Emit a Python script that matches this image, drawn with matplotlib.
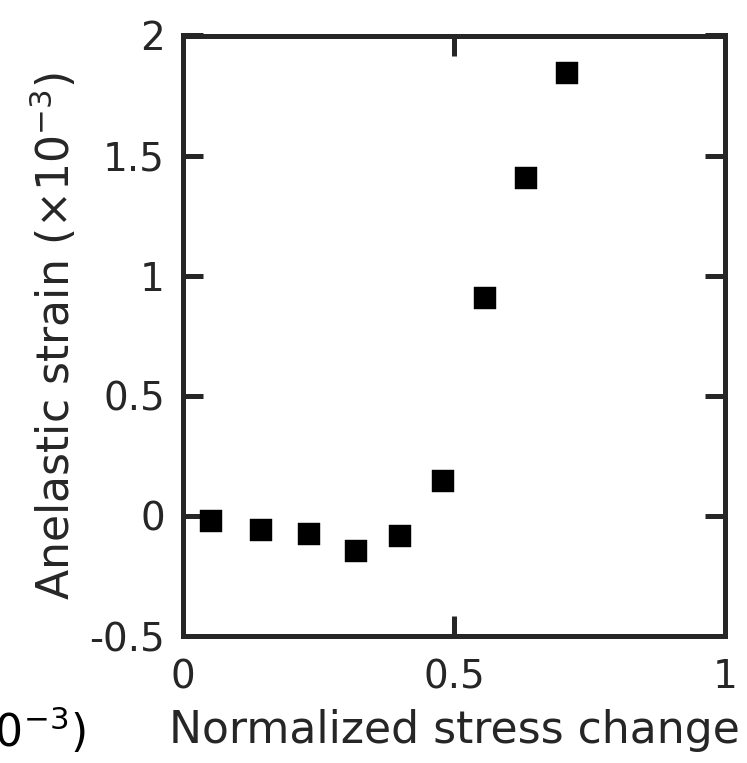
import matplotlib
matplotlib.use("Agg")
import matplotlib.pyplot as plt

# Normalized stress change vs anelastic strain (x1e-3)
stress_change = [0.051, 0.143, 0.232, 0.319, 0.401, 0.480, 0.557, 0.632, 0.708]
anelastic_strain = [-0.022, -0.059, -0.077, -0.148, -0.085, 0.145, 0.908, 1.408, 1.844]

x_ticks = [0, 0.5, 1]
x_ticklabels = ["0", "0.5", "1"]
y_ticks = [-0.5, 0, 0.5, 1, 1.5, 2]
y_ticklabels = ["-0.5", "0", "0.5", "1", "1.5", "2"]

W, H, DPI = 747, 763, 100
ink = "#262626"
fs_tick = 28
fs_label = 31.8

fig = plt.figure(figsize=(W / DPI, H / DPI), dpi=DPI)
x0, x1, y_top, y_bot = 183, 725, 35.5, 636
ax = fig.add_axes([x0 / W, 1 - y_bot / H, (x1 - x0) / W, (y_bot - y_top) / H])

ax.plot(stress_change, anelastic_strain, linestyle="none", marker="s",
        markersize=15.8, color="black", markeredgecolor="black",
        markeredgewidth=0.3, clip_on=False, zorder=3)

ax.set_xlim(0, 1)
ax.set_ylim(-0.5, 2)
ax.set_xticks(x_ticks)
ax.set_xticklabels(x_ticklabels)
ax.set_yticks(y_ticks)
ax.set_yticklabels(y_ticklabels)

for s in ax.spines.values():
    s.set_linewidth(3.6)
    s.set_color(ink)

ax.tick_params(axis="both", which="major", direction="in", length=14.4,
               width=3.6, color=ink, labelcolor=ink, labelsize=fs_tick,
               top=True, right=True)
ax.tick_params(axis="x", pad=16)
ax.tick_params(axis="y", pad=13)

ax.set_xlabel("Normalized stress change", fontsize=fs_label, color=ink)
ax.xaxis.label.set_va("baseline")
ax.xaxis.set_label_coords(0.5, (y_bot - 743) / (y_bot - y_top))

ax.set_ylabel("Anelastic strain ($\\times$10$^{-3}$)", fontsize=fs_label,
              color=ink)
ax.yaxis.label.set_va("baseline")
ax.yaxis.set_label_coords((70 - x0) / (x1 - x0), 0.5)

# Tail of the neighbouring panel's axis label
fig.text(86 / W, 1 - 747 / H, "Stress ($\\times$10$^{-3}$)", fontsize=fs_label,
         color="black", ha="right", va="baseline")

fig.savefig("out.png", dpi=DPI)
